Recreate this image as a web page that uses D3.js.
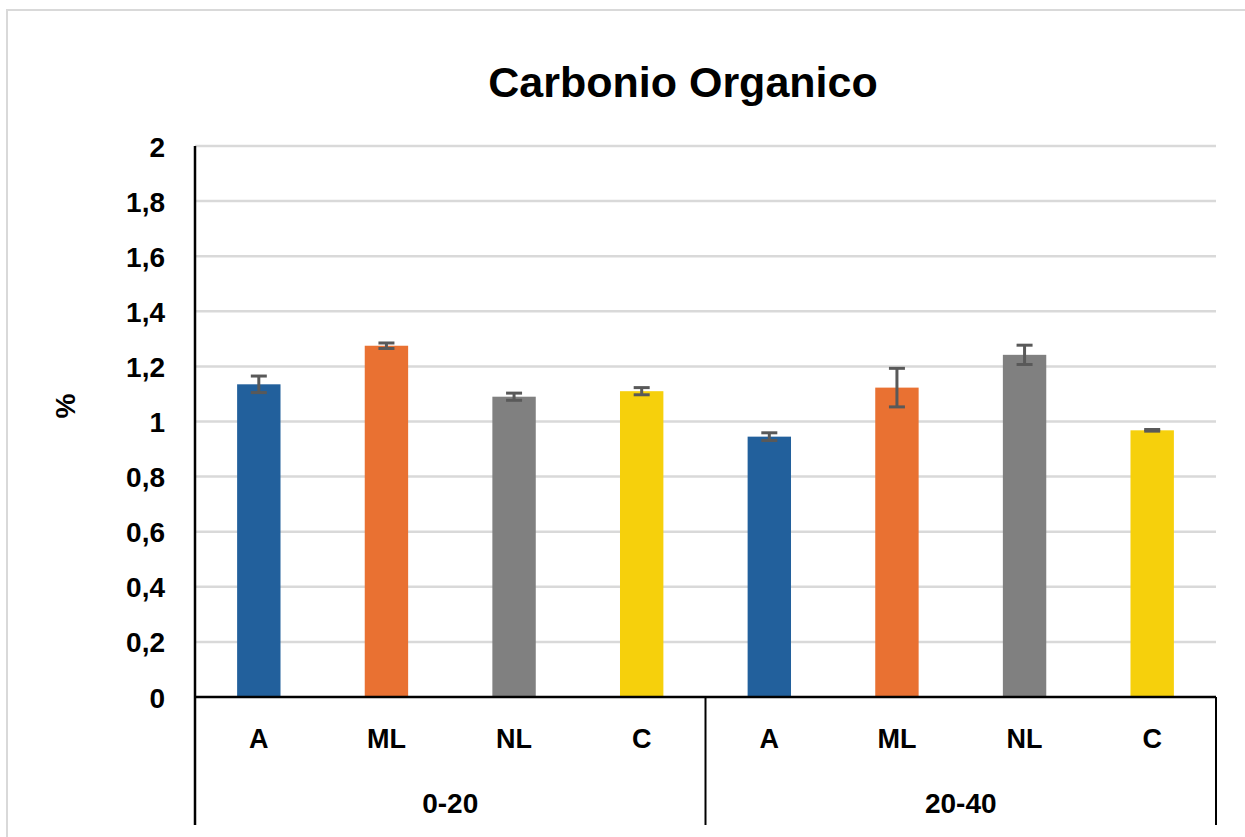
<!DOCTYPE html>
<html>
<head>
<meta charset="utf-8">
<script src="https://cdn.jsdelivr.net/npm/d3@7"></script>
<style>
  body { margin: 0; background: #fff; }
  text { font-family: "Liberation Sans", Arial, sans-serif; font-weight: bold; fill: #000; }
</style>
</head>
<body>
<div id="chart"></div>
<script>
'use strict';

const groups = ['0-20', '20-40'];
const treatments = ['A', 'ML', 'NL', 'C'];
const colors = ['#22609c', '#e97132', '#808080', '#f6d00c'];
const means = [
  [1.135, 1.275, 1.09, 1.11],
  [0.945, 1.123, 1.242, 0.968]
];
const errors = [
  [0.03, 0.01, 0.013, 0.013],
  [0.014, 0.07, 0.035, 0.003]
];
const yTicks = [0, 0.2, 0.4, 0.6, 0.8, 1, 1.2, 1.4, 1.6, 1.8, 2];

const W = 1245, H = 837;
const margin = {left: 195, right: 29, top: 146, bottom: 140};
const plotW = W - margin.left - margin.right;
const plotH = H - margin.top - margin.bottom;

const svg = d3.select('#chart').append('svg')
    .attr('width', W)
    .attr('height', H);

// chart area border
svg.append('rect')
    .attr('x', 7).attr('y', 10)
    .attr('width', W + 10).attr('height', H + 10)
    .attr('fill', 'none')
    .attr('stroke', '#d9d9d9')
    .attr('stroke-width', 2);

svg.append('text')
    .attr('x', 683).attr('y', 97)
    .attr('text-anchor', 'middle')
    .style('font-size', '43px')
    .text('Carbonio Organico');

const g = svg.append('g')
    .attr('transform', `translate(${margin.left}, ${margin.top})`);

const y = d3.scaleLinear().domain([0, 2]).range([plotH, 0]);

const rows = [];
groups.forEach((grp, gi) => treatments.forEach((t, ti) => rows.push({
  key: grp + '|' + t, grp, t, ti, v: means[gi][ti], e: errors[gi][ti]
})));

const x = d3.scaleBand().domain(rows.map(d => d.key)).range([0, plotW]).paddingInner(0.66).paddingOuter(0.33);
const xGroup = d3.scaleBand().domain(groups).range([0, plotW]);

// gridlines
g.append('g')
    .selectAll('line')
    .data(yTicks.filter(d => d > 0))
    .join('line')
      .attr('x1', 0).attr('x2', plotW)
      .attr('y1', d => y(d)).attr('y2', d => y(d))
      .attr('stroke', '#d9d9d9')
      .attr('stroke-width', 2.5);

const yAxis = d3.axisLeft(y).tickValues(yTicks).tickSize(0).tickPadding(30)
    .tickFormat(d => String(d).replace('.', ','));
g.append('g')
    .attr('class', 'y-axis')
    .call(yAxis)
    .call(a => a.select('.domain').remove())
    .selectAll('text')
      .style('font-size', '28px')
      .attr('dy', '0.36em');

// bars
g.append('g')
    .selectAll('rect')
    .data(rows)
    .join('rect')
      .attr('x', d => x(d.key))
      .attr('y', d => y(d.v))
      .attr('width', x.bandwidth())
      .attr('height', d => plotH - y(d.v))
      .attr('fill', d => colors[d.ti]);

// error bars
const eb = g.append('g')
    .attr('stroke', '#595959')
    .attr('stroke-width', 3)
  .selectAll('g')
  .data(rows)
  .join('g')
    .attr('transform', d => `translate(${x(d.key) + x.bandwidth() / 2}, 0)`);
eb.append('line')
    .attr('y1', d => y(d.v + d.e)).attr('y2', d => y(d.v - d.e));
eb.append('line')
    .attr('x1', -8).attr('x2', 8)
    .attr('y1', d => y(d.v + d.e)).attr('y2', d => y(d.v + d.e));
eb.append('line')
    .attr('x1', -8).attr('x2', 8)
    .attr('y1', d => y(d.v - d.e)).attr('y2', d => y(d.v - d.e));

// axes lines
g.append('line')
    .attr('x1', 0).attr('x2', 0)
    .attr('y1', 0).attr('y2', plotH + 128)
    .attr('stroke', '#000').attr('stroke-width', 2.5);
g.append('line')
    .attr('x1', 0).attr('x2', plotW)
    .attr('y1', plotH).attr('y2', plotH)
    .attr('stroke', '#000').attr('stroke-width', 2.5);
g.append('g')
    .selectAll('line')
    .data(groups)
    .join('line')
      .attr('x1', d => xGroup(d) + xGroup.bandwidth())
      .attr('x2', d => xGroup(d) + xGroup.bandwidth())
      .attr('y1', plotH).attr('y2', plotH + 128)
      .attr('stroke', '#000').attr('stroke-width', 2);

// category labels
g.append('g')
    .selectAll('text')
    .data(rows)
    .join('text')
      .attr('x', d => x(d.key) + x.bandwidth() / 2)
      .attr('y', plotH + 51)
      .attr('text-anchor', 'middle')
      .style('font-size', '27px')
      .text(d => d.t);

g.append('g')
    .selectAll('text')
    .data(groups)
    .join('text')
      .attr('x', d => xGroup(d) + xGroup.bandwidth() / 2)
      .attr('y', plotH + 116)
      .attr('text-anchor', 'middle')
      .style('font-size', '28px')
      .text(d => d);

svg.append('text')
    .attr('transform', 'translate(75, 406) rotate(-90)')
    .attr('text-anchor', 'middle')
    .style('font-size', '28px')
    .text('%');
</script>
</body>
</html>
